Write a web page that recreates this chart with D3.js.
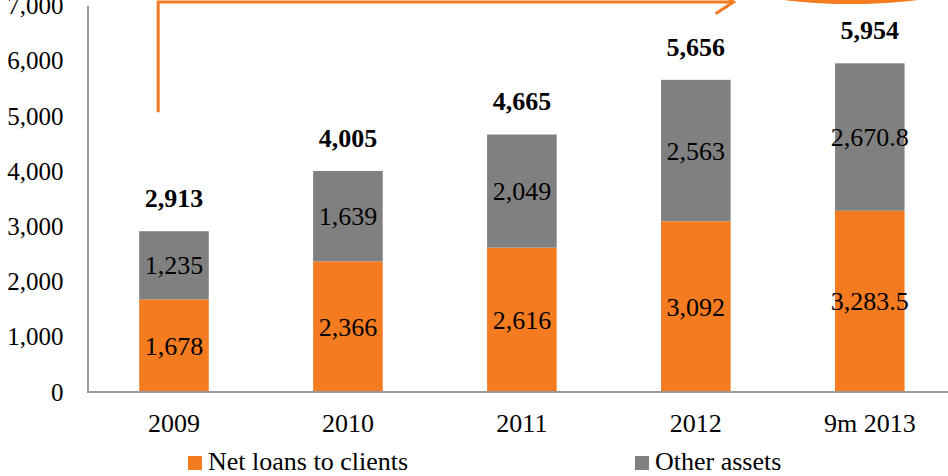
<!DOCTYPE html>
<html>
<head>
<meta charset="utf-8">
<script src="https://cdn.jsdelivr.net/npm/d3@7"></script>
<style>
  html, body { margin: 0; padding: 0; background: #fff; }
  svg { display: block; }
  svg text { font-family: "Liberation Serif", "Times New Roman", serif !important; }
</style>
</head>
<body>
<svg id="chart" width="948" height="476"></svg>
<script>
const categories = ["2009", "2010", "2011", "2012", "9m 2013"];
const netLoans = [1678, 2366, 2616, 3092, 3283.5];
const otherAssets = [1235, 1639, 2049, 2563, 2670.8];
const totals = [2913, 4005, 4665, 5656, 5954];
const netLoanLabels = ["1,678", "2,366", "2,616", "3,092", "3,283.5"];
const otherLabels = ["1,235", "1,639", "2,049", "2,563", "2,670.8"];
const totalLabels = ["2,913", "4,005", "4,665", "5,656", "5,954"];
const yTicks = [0, 1000, 2000, 3000, 4000, 5000, 6000, 7000];
const seriesNames = ["Net loans to clients", "Other assets"];
const colors = ["#F47B20", "#808080"];

const svg = d3.select("#chart");
const x = d3.scaleBand().domain(categories).range([87, 956.75]).paddingInner(0.6).paddingOuter(0.3);
const y = d3.scaleLinear().domain([0, 7000]).range([392, 5.6]);

// y axis
const yAxis = svg.append("g").attr("transform", "translate(87.5,0)")
  .call(d3.axisLeft(y).tickValues(yTicks).tickSize(0).tickSizeOuter(0).tickPadding(24).tickFormat(d3.format(",")));
yAxis.attr("font-family", null);
yAxis.select(".domain").attr("stroke", "#9a9a9a").attr("stroke-width", 2);
yAxis.selectAll("text").attr("font-size", 25).attr("fill", "#000");

// stacked data
const rows = categories.map((c, i) => ({cat: c, a: netLoans[i], b: otherAssets[i]}));
const stack = d3.stack().keys(["a", "b"])(rows);

stack.forEach((layer, li) => {
  svg.append("g").selectAll("rect").data(layer).join("rect")
    .attr("x", d => x(d.data.cat))
    .attr("width", x.bandwidth())
    .attr("y", d => y(d[1]))
    .attr("height", d => y(d[0]) - y(d[1]))
    .attr("fill", colors[li]);
});

// x axis
const xAxis = svg.append("g").attr("transform", "translate(0,392)")
  .call(d3.axisBottom(x).tickSize(0).tickSizeOuter(0).tickPadding(0));
xAxis.attr("font-family", null);
xAxis.select(".domain").attr("d", "M87,0H948").attr("stroke", "#9a9a9a").attr("stroke-width", 2);
xAxis.selectAll("text").attr("font-size", 26).attr("fill", "#000")
  .attr("dy", null).attr("y", 40);

// segment labels
const segLabels = [netLoanLabels, otherLabels];
stack.forEach((layer, li) => {
  svg.append("g").selectAll("text").data(layer).join("text")
    .attr("x", d => x(d.data.cat) + x.bandwidth() / 2)
    .attr("y", d => (y(d[0]) + y(d[1])) / 2 + 9)
    .attr("text-anchor", "middle")
    .attr("font-size", 26)
    .attr("fill", "#000")
    .text((d, i) => segLabels[li][i]);
});

// total labels
svg.append("g").selectAll("text").data(totals).join("text")
  .attr("x", (d, i) => x(categories[i]) + x.bandwidth() / 2)
  .attr("y", d => y(d) - 24)
  .attr("text-anchor", "middle")
  .attr("font-size", 26)
  .attr("font-weight", "bold")
  .attr("fill", "#000")
  .text((d, i) => totalLabels[i]);

// arrow annotation
const ax = x("2009") + 19;
const ay = 2;
const tipX = x("2012") + x.bandwidth() + 3;
svg.append("path")
  .attr("d", `M${ax},${y(5070)}V${ay}H${tipX}`)
  .attr("fill", "none").attr("stroke", "#F47B20").attr("stroke-width", 3);
svg.append("path")
  .attr("d", `M${tipX - 17},${ay - 11}L${tipX},${ay}L${tipX - 17},${ay + 11}`)
  .attr("fill", "none").attr("stroke", "#F47B20").attr("stroke-width", 3).attr("stroke-linecap", "round");

// ellipse at top right (partially off-canvas)
svg.append("ellipse")
  .attr("cx", x("9m 2013") + x.bandwidth() / 2 - 19)
  .attr("cy", -26).attr("rx", 134).attr("ry", 30)
  .attr("fill", "#F47B20");

// legend
const legX = [188, 635];
const lg = svg.append("g");
seriesNames.forEach((n, i) => {
  lg.append("rect").attr("x", legX[i]).attr("y", 456).attr("width", 14).attr("height", 14).attr("fill", colors[i]);
  lg.append("text").attr("x", legX[i] + 20).attr("y", 470).attr("font-size", 26).attr("fill", "#000").text(n);
});
</script>
</body>
</html>
